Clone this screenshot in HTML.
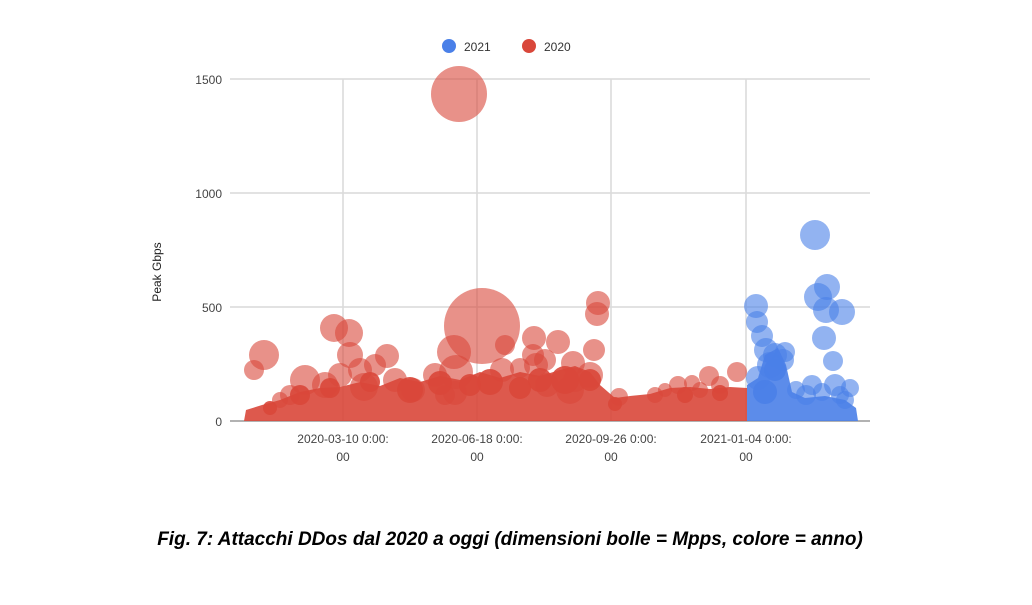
<!DOCTYPE html>
<html><head><meta charset="utf-8"><style>
body{margin:0;background:#fff;width:1032px;height:600px;overflow:hidden;font-family:"Liberation Sans",sans-serif}
</style></head><body>
<svg width="1032" height="600" xmlns="http://www.w3.org/2000/svg" font-family="Liberation Sans, sans-serif">
<g stroke="#d9d9d9" stroke-width="1.5">
<line x1="230" y1="79" x2="870" y2="79"/><line x1="230" y1="193" x2="870" y2="193"/><line x1="230" y1="307" x2="870" y2="307"/>
<line x1="343" y1="79" x2="343" y2="421"/><line x1="477" y1="79" x2="477" y2="421"/><line x1="611" y1="79" x2="611" y2="421"/><line x1="746" y1="79" x2="746" y2="421"/>
</g>
<line x1="230" y1="421" x2="870" y2="421" stroke="#999" stroke-width="1.5"/>
<g font-size="12" fill="#444" text-anchor="end">
<text x="222" y="84">1500</text><text x="222" y="198">1000</text><text x="222" y="312">500</text><text x="222" y="426">0</text>
</g>
<text x="0" y="0" font-size="12" fill="#222" text-anchor="middle" transform="translate(161,272) rotate(-90)">Peak Gbps</text>
<g font-size="12" fill="#444" text-anchor="middle">
<text x="343" y="443">2020-03-10 0:00:</text><text x="343" y="461">00</text>
<text x="477" y="443">2020-06-18 0:00:</text><text x="477" y="461">00</text>
<text x="611" y="443">2020-09-26 0:00:</text><text x="611" y="461">00</text>
<text x="746" y="443">2021-01-04 0:00:</text><text x="746" y="461">00</text>
</g>
<circle cx="449" cy="46" r="7" fill="#4a80e8"/><text x="464" y="51" font-size="12" fill="#333">2021</text>
<circle cx="529" cy="46" r="7" fill="#d9473a"/><text x="544" y="51" font-size="12" fill="#333">2020</text>
<g fill="#d9473a" fill-opacity="0.6">
<circle cx="459" cy="94" r="28"/><circle cx="482" cy="326" r="38"/>
<circle cx="264" cy="355" r="15"/><circle cx="254" cy="370" r="10"/>
<circle cx="334" cy="328" r="14"/><circle cx="349" cy="333" r="14"/>
<circle cx="305" cy="380" r="15"/><circle cx="350" cy="355" r="13"/><circle cx="360" cy="370" r="12"/>
<circle cx="387" cy="356" r="12"/><circle cx="364" cy="387" r="14"/><circle cx="325" cy="385" r="13"/>
<circle cx="395" cy="380" r="12"/><circle cx="413" cy="390" r="12"/>
<circle cx="454" cy="352" r="17"/><circle cx="456" cy="372" r="17"/><circle cx="455" cy="393" r="12"/>
<circle cx="534" cy="338" r="12"/><circle cx="533" cy="355" r="11"/><circle cx="536" cy="365" r="12"/>
<circle cx="558" cy="342" r="12"/><circle cx="520" cy="368" r="10"/>
<circle cx="598" cy="303" r="12"/><circle cx="597" cy="314" r="12"/>
<circle cx="594" cy="350" r="11"/><circle cx="573" cy="363" r="12"/><circle cx="590" cy="375" r="13"/>
<circle cx="547" cy="385" r="12"/><circle cx="570" cy="390" r="14"/>
<circle cx="619" cy="397" r="9"/><circle cx="678" cy="385" r="9"/><circle cx="709" cy="376" r="10"/><circle cx="737" cy="372" r="10"/>
<circle cx="692" cy="383" r="8"/><circle cx="375" cy="365" r="11"/><circle cx="340" cy="375" r="12"/>
<circle cx="502" cy="370" r="12"/><circle cx="435" cy="375" r="12"/><circle cx="445" cy="395" r="10"/>
<circle cx="505" cy="345" r="10"/><circle cx="545" cy="360" r="11"/><circle cx="575" cy="380" r="12"/>
<circle cx="700" cy="390" r="8"/><circle cx="720" cy="385" r="9"/><circle cx="655" cy="395" r="8"/><circle cx="665" cy="390" r="7"/>
<circle cx="290" cy="395" r="10"/><circle cx="280" cy="400" r="8"/>
</g>
<g fill="#d9473a" fill-opacity="0.9">
<path d="M244,421 L246,410 L262,405 L280,400 L300,392 L320,388 L340,387 L360,382 L380,386 L400,378 L420,382 L440,376 L460,380 L480,372 L500,378 L520,372 L540,376 L560,370 L575,366 L590,372 L600,385 L615,398 L630,396 L650,394 L670,388 L690,387 L710,389 L730,387 L747,388 L747,421 Z"/>
<circle cx="410" cy="390" r="13"/><circle cx="490" cy="382" r="13"/><circle cx="520" cy="388" r="11"/><circle cx="565" cy="380" r="14"/>
<circle cx="330" cy="388" r="10"/><circle cx="270" cy="408" r="7"/><circle cx="300" cy="395" r="10"/><circle cx="370" cy="382" r="10"/>
<circle cx="440" cy="383" r="12"/><circle cx="470" cy="385" r="11"/><circle cx="540" cy="380" r="12"/><circle cx="590" cy="380" r="11"/>
<circle cx="615" cy="404" r="7"/><circle cx="685" cy="395" r="8"/><circle cx="720" cy="393" r="8"/>
</g>
<g fill="#4a80e8" fill-opacity="0.6">
<circle cx="815" cy="235" r="15"/><circle cx="827" cy="287" r="13"/><circle cx="818" cy="297" r="14"/>
<circle cx="826" cy="310" r="13"/><circle cx="842" cy="312" r="13"/><circle cx="824" cy="338" r="12"/>
<circle cx="833" cy="361" r="10"/><circle cx="835" cy="385" r="11"/>
<circle cx="756" cy="306" r="12"/><circle cx="757" cy="322" r="11"/><circle cx="762" cy="336" r="11"/>
<circle cx="766" cy="350" r="12"/><circle cx="770" cy="365" r="13"/><circle cx="783" cy="360" r="11"/><circle cx="785" cy="352" r="10"/>
<circle cx="758" cy="378" r="12"/><circle cx="796" cy="390" r="9"/><circle cx="812" cy="385" r="10"/>
<circle cx="850" cy="388" r="9"/><circle cx="845" cy="400" r="9"/><circle cx="775" cy="355" r="12"/>
<circle cx="806" cy="395" r="10"/><circle cx="822" cy="392" r="9"/><circle cx="840" cy="395" r="9"/>
</g>
<g fill="#4a80e8" fill-opacity="0.9">
<path d="M747,421 L747,385 L758,378 L765,355 L778,348 L786,365 L792,392 L805,398 L825,396 L845,400 L856,408 L858,421 Z"/>
<circle cx="775" cy="370" r="11"/><circle cx="765" cy="392" r="12"/>
</g>
<text x="510" y="545" font-size="19" font-weight="bold" font-style="italic" fill="#000" text-anchor="middle">Fig. 7: Attacchi DDos dal 2020 a oggi (dimensioni bolle = Mpps, colore = anno)</text>
</svg>
</body></html>
